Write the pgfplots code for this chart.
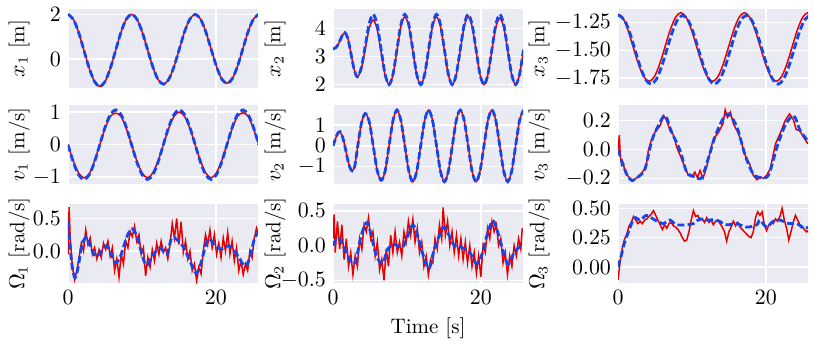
\documentclass[border=0pt]{standalone}
\usepackage{pgfplots}
\pgfplotsset{compat=1.18}
\usepackage{pgfplotstable}
\definecolor{bgc}{HTML}{EAEAF2}
\definecolor{rc}{RGB}{230,0,0}
\definecolor{bc}{RGB}{20,70,235}

\pgfplotsset{
  panel/.style={
    width=95pt, height=39.5pt, scale only axis, anchor=south west,
    xmin=0, xmax=25.7, xtick={0,20},
    axis background/.style={fill=bgc},
    axis line style={draw=none},
    major tick length=0pt,
    grid=major, major grid style={white, line width=0.7pt},
    tick label style={font=\fontsize{10.5}{12}\selectfont},
    label style={font=\fontsize{10.5}{12}\selectfont},
    xticklabels={},
  },
  bottomrow/.style={xticklabels={$0$,$20$}},
  yl/.style={ylabel style={at={(axis description cs:#1,0.5)}, anchor=south, inner sep=0pt}},
  rl/.style={rc, line width=0.75pt},
  bl/.style={bc, line width=1.4pt, dash pattern=on 3.5pt off 1.6pt},
}

% ---------------- data ----------------
\pgfplotstableread{
t v
0 2.0
0.717 1.786
1.433 1.2
2.15 0.4
2.867 -0.4
3.583 -1.0
4.3 -1.22
5.017 -1.0
5.733 -0.4
6.45 0.4
7.167 1.2
7.883 1.786
8.6 2.0
9.317 1.79
10.033 1.22
10.75 0.44
11.467 -0.34
12.183 -0.91
12.9 -1.12
13.617 -0.91
14.333 -0.34
15.05 0.44
15.767 1.22
16.483 1.79
17.2 2.0
17.917 1.79
18.633 1.23
19.35 0.46
20.067 -0.31
20.783 -0.88
21.5 -1.08
22.217 -0.88
22.933 -0.31
23.65 0.46
24.367 1.23
25.083 1.79
25.8 2.0
}\xone

\pgfplotstableread{
t v
0 0
0.717 -0.535
1.433 -0.927
2.15 -1.07
2.867 -0.927
3.583 -0.535
4.3 0
5.017 0.535
5.733 0.927
6.45 1.07
7.167 0.927
7.883 0.535
8.6 0
9.317 -0.535
10.033 -0.927
10.75 -1.07
11.467 -0.927
12.183 -0.535
12.9 0
13.617 0.535
14.333 0.927
15.05 1.07
15.767 0.927
16.483 0.535
17.2 0
17.917 -0.535
18.633 -0.927
19.35 -1.07
20.067 -0.927
20.783 -0.535
21.5 0
22.217 0.535
22.933 0.927
23.65 1.07
24.367 0.927
25.083 0.535
25.8 0
}\voneb

\pgfplotstableread{
t v
0 0
0.717 -0.5
1.433 -0.87
2.15 -1.02
2.867 -0.9
3.583 -0.5
4.3 0
5.017 0.5
5.733 0.87
6.45 0.97
7.167 0.87
7.883 0.5
8.6 0
9.317 -0.5
10.033 -0.87
10.75 -1.02
11.467 -0.87
12.183 -0.5
12.9 0
13.617 0.5
14.333 0.87
15.05 1.0
15.767 0.87
16.483 0.5
17.2 0
17.917 -0.5
18.633 -0.87
19.35 -1.02
20.067 -0.87
20.783 -0.5
21.5 0
22.217 0.5
22.933 0.87
23.65 0.98
24.367 0.87
25.083 0.5
25.8 0
}\voner

\pgfplotstableread{
t v
0 3.27
0.4 3.32
0.8 3.48
1.2 3.72
1.6 3.85
2.0 3.65
2.4 3.15
2.85 2.55
3.3 2.28
3.835 2.605
4.37 3.39
4.905 4.175
5.44 4.5
5.975 4.134
6.51 3.25
7.045 2.366
7.58 2.0
8.115 2.366
8.65 3.25
9.185 4.134
9.72 4.5
10.255 4.134
10.79 3.25
11.325 2.366
11.86 2.0
12.395 2.366
12.93 3.25
13.465 4.134
14.0 4.5
14.535 4.134
15.07 3.25
15.605 2.366
16.14 2.0
16.675 2.366
17.21 3.25
17.745 4.134
18.28 4.5
18.815 4.134
19.35 3.25
19.885 2.366
20.42 2.0
20.955 2.366
21.49 3.25
22.025 4.134
22.56 4.5
23.095 4.134
23.63 3.25
24.165 2.366
24.7 2.0
25.235 2.366
25.77 3.25
}\xtwob

\pgfplotstableread{
t v
0 3.27
0.4 3.32
0.8 3.48
1.2 3.72
1.6 3.85
2.0 3.65
2.4 3.15
2.85 2.55
3.3 2.28
3.835 2.576
4.37 3.29
4.905 4.004
5.44 4.3
5.975 3.963
6.51 3.15
7.045 2.337
7.58 2.0
8.115 2.354
8.65 3.21
9.185 4.066
9.72 4.42
10.255 4.066
10.79 3.21
11.325 2.354
11.86 2.0
12.395 2.354
12.93 3.21
13.465 4.066
14.0 4.42
14.535 4.066
15.07 3.21
15.605 2.354
16.14 2.0
16.675 2.354
17.21 3.21
17.745 4.066
18.28 4.42
18.815 4.066
19.35 3.21
19.885 2.354
20.42 2.0
20.955 2.354
21.49 3.21
22.025 4.04
22.56 4.36
23.095 4.04
23.63 3.21
24.165 2.354
24.7 2.0
25.235 2.354
25.77 3.21
}\xtwor

\pgfplotstableread{
t v
0 0
0.3 0.3
0.6 0.58
0.95 0.68
1.3 0.42
1.6 0.0
1.95 -0.6
2.3 -1.05
2.6 -1.2
2.95 -0.95
3.35 0.0
3.85 1.1
4.37 1.55
4.905 1.15
5.44 0
5.975 -1.17
6.51 -1.65
7.045 -1.216
7.58 0
8.115 1.216
8.65 1.72
9.185 1.216
9.72 0
10.255 -1.216
10.79 -1.72
11.325 -1.216
11.86 0
12.395 1.216
12.93 1.72
13.465 1.216
14.0 0
14.535 -1.216
15.07 -1.72
15.605 -1.216
16.14 0
16.675 1.216
17.21 1.72
17.745 1.216
18.28 0
18.815 -1.216
19.35 -1.72
19.885 -1.216
20.42 0
20.955 1.216
21.49 1.72
22.025 1.216
22.56 0
23.095 -1.216
23.63 -1.72
24.165 -1.216
24.7 0
25.235 1.216
25.77 1.72
}\vtwo

\pgfplotstableread{
t v
0 -1.175
0.617 -1.202
1.333 -1.315
2.05 -1.47
2.767 -1.625
3.483 -1.738
4.2 -1.78
4.917 -1.738
5.633 -1.625
6.35 -1.47
7.067 -1.315
7.783 -1.202
8.5 -1.16
9.217 -1.202
9.933 -1.315
10.65 -1.47
11.367 -1.625
12.083 -1.738
12.8 -1.78
13.517 -1.738
14.233 -1.625
14.95 -1.47
15.667 -1.315
16.383 -1.202
17.1 -1.16
17.817 -1.202
18.533 -1.315
19.25 -1.47
19.967 -1.625
20.683 -1.738
21.4 -1.78
22.117 -1.738
22.833 -1.625
23.55 -1.47
24.267 -1.315
24.983 -1.202
25.7 -1.16
26.417 -1.202
}\xthreer

\pgfplotstableread{
t v
0 -1.187
0.15 -1.185
0.867 -1.2265
1.583 -1.34
2.3 -1.495
3.017 -1.65
3.733 -1.763
4.45 -1.805
5.167 -1.763
5.883 -1.65
6.6 -1.495
7.317 -1.34
8.033 -1.2265
8.75 -1.185
9.467 -1.2265
10.183 -1.34
10.9 -1.495
11.617 -1.65
12.333 -1.763
13.05 -1.805
13.767 -1.763
14.483 -1.65
15.2 -1.495
15.917 -1.34
16.633 -1.2265
17.35 -1.185
18.067 -1.2265
18.783 -1.34
19.5 -1.495
20.217 -1.65
20.933 -1.763
21.65 -1.805
22.367 -1.763
23.083 -1.65
23.8 -1.495
24.517 -1.34
25.233 -1.2265
25.95 -1.185
}\xthreeb

\pgfplotstableread{
t v
0 0
0.72 -0.11
1.26 -0.18
1.85 -0.215
2.75 -0.19
3.66 -0.134
4.56 0.06
5.47 0.167
6.37 0.236
7.27 0.12
8.4 -0.007
9.3 -0.157
10.4 -0.19
11.3 -0.197
12.2 -0.065
13.1 0.086
14.05 0.2
14.95 0.248
16.1 0.155
17.2 -0.04
18.3 -0.17
19.5 -0.197
20.4 -0.174
21.5 0.016
22.6 0.167
23.76 0.236
24.66 0.13
25.7 0.06
}\vthreeb

\pgfplotstableread{
t v
0 0
0.18 0.1
0.3 -0.04
0.5 -0.11
0.72 -0.10
0.95 -0.157
1.26 -0.18
1.63 -0.2
2.0 -0.22
2.5 -0.197
3.2 -0.164
3.8 -0.12
4.1 -0.007
4.56 0.074
5.0 0.12
5.7 0.167
6.2 0.236
6.6 0.2
7.05 0.13
7.5 0.1
7.95 0.016
8.4 -0.04
8.94 -0.11
9.5 -0.18
10.0 -0.19
10.4 -0.157
10.75 -0.197
11.1 -0.146
11.5 -0.2
12.0 -0.12
12.5 -0.007
12.9 0.074
13.6 0.12
14.2 0.18
14.5 0.275
14.8 0.224
15.2 0.26
15.6 0.18
16.3 0.11
16.75 0.04
17.2 -0.04
17.8 -0.1
18.3 -0.18
18.8 -0.21
19.2 -0.19
19.7 -0.2
20.1 -0.18
20.6 -0.134
21.3 0.04
21.6 0.074
22.0 0.12
22.6 0.2
23.2 0.248
23.7 0.21
24.1 0.14
24.6 0.13
25.1 0.086
25.7 0.04
}\vthreer

\pgfplotstableread{
t v
0 0.44
0.5 -0.18
0.95 -0.41
1.4 -0.23
1.86 0.08
2.45 0.21
3.0 0.08
3.67 -0.08
4.35 -0.03
5.17 0.08
5.7 0.0
6.4 -0.18
7.1 -0.08
8.0 0.23
8.66 0.34
9.3 0.23
10.5 -0.21
11.4 -0.08
12.4 0.05
13.4 -0.05
14.1 0.21
15.5 0.08
16.4 -0.13
17.3 -0.34
18.0 -0.18
18.9 0.18
19.8 0.1
20.7 0.03
21.8 0.08
22.7 -0.03
23.9 -0.23
24.5 -0.13
25.2 0.18
25.7 0.28
}\oneb

\pgfplotstableread{
t v
0 -0.05
0.15 0.67
0.3 0.2
0.6 -0.25
0.9 -0.44
1.2 -0.3
1.5 -0.1
1.8 0.12
2.1 0.0
2.4 0.32
2.7 0.1
3.0 0.2
3.3 -0.05
3.6 0.05
3.9 -0.12
4.2 0.02
4.5 -0.1
4.8 0.12
5.1 0.02
5.4 0.15
5.7 -0.08
6.0 0.05
6.3 -0.3
6.6 -0.12
6.9 -0.4
7.2 -0.05
7.5 -0.2
7.8 0.15
8.1 0.05
8.4 0.3
8.7 0.22
9.0 0.38
9.3 0.15
9.6 0.25
9.9 -0.05
10.2 0.05
10.5 -0.38
10.8 -0.1
11.1 -0.25
11.4 0.02
11.7 -0.15
12.0 0.12
12.3 -0.05
12.6 0.15
12.9 -0.02
13.2 0.05
13.5 -0.12
13.8 0.1
14.1 0.42
14.4 0.2
14.7 0.5
15.0 0.1
15.3 0.45
15.6 -0.02
15.9 0.15
16.2 -0.12
16.5 0.0
16.8 -0.3
17.1 -0.2
17.4 -0.46
17.7 -0.25
18.0 -0.35
18.3 0.0
18.6 0.25
18.9 0.1
19.2 0.32
19.5 0.05
19.8 0.25
20.1 -0.05
20.4 0.12
20.7 -0.1
21.0 0.2
21.3 0.0
21.6 0.28
21.9 -0.05
22.2 0.15
22.5 -0.15
22.8 0.05
23.1 -0.3
23.4 -0.15
23.7 -0.36
24.0 -0.2
24.3 -0.3
24.6 0.0
24.9 -0.1
25.2 0.2
25.5 0.35
25.7 0.28
}\oner

\pgfplotstableread{
t v
0 0.0
0.45 0.1
0.9 0.1
1.6 -0.05
2.6 -0.26
3.15 -0.19
3.8 0.14
4.5 0.33
4.95 0.24
5.85 -0.14
6.7 -0.26
7.4 -0.05
8.3 0.02
9.45 -0.02
10.7 0.29
11.3 0.19
12.2 -0.14
13.0 -0.33
13.7 -0.05
14.9 0.26
15.5 0.19
16.4 0.0
17.3 -0.02
18.5 -0.1
19.4 -0.26
20.1 -0.14
20.8 0.14
21.6 0.36
22.3 0.19
23.6 -0.26
24.5 -0.1
25.6 0.02
}\twob

\pgfplotstableread{
t v
0 0.1
0.15 0.45
0.3 -0.1
0.6 0.35
0.9 -0.05
1.2 0.3
1.5 -0.2
1.8 0.1
2.1 -0.3
2.4 -0.1
2.7 -0.42
3.0 -0.15
3.3 -0.3
3.6 0.1
3.9 -0.05
4.2 0.3
4.5 0.2
4.8 0.4
5.1 0.1
5.4 0.2
5.7 -0.15
6.0 0.05
6.3 -0.35
6.6 -0.2
6.9 -0.5
7.2 -0.05
7.5 -0.3
7.8 0.15
8.1 -0.1
8.4 0.2
8.7 -0.1
9.0 0.05
9.3 -0.15
9.6 0.2
9.9 0.05
10.2 0.35
10.5 0.15
10.8 0.38
11.1 0.05
11.4 0.25
11.7 -0.1
12.0 0.05
12.3 -0.3
12.6 -0.15
12.9 -0.42
13.2 -0.2
13.5 -0.25
13.8 0.1
14.1 -0.05
14.4 0.3
14.7 0.1
14.9 0.55
15.2 0.15
15.5 0.35
15.8 0.0
16.1 0.2
16.4 -0.1
16.7 0.15
17.0 -0.15
17.3 0.1
17.6 -0.2
17.9 0.05
18.2 -0.25
18.5 0.0
18.8 -0.3
19.1 -0.1
19.4 -0.4
19.7 -0.15
20.0 -0.45
20.3 0.0
20.6 -0.1
20.9 0.25
21.2 0.1
21.5 0.35
21.8 0.2
22.1 0.3
22.4 0.0
22.7 0.1
23.0 -0.25
23.3 -0.1
23.6 -0.42
23.9 -0.15
24.2 -0.3
24.5 0.0
24.8 -0.15
25.1 0.1
25.4 -0.05
25.6 0.25
}\twor

\pgfplotstableread{
t v
0 0.0
0.45 0.1
0.9 0.21
1.6 0.33
2.2 0.42
3.0 0.4
3.85 0.44
5.0 0.4
6.1 0.37
7.0 0.4
7.9 0.36
9.3 0.36
10.2 0.37
11.1 0.41
12.0 0.4
13.3 0.4
14.7 0.36
16.0 0.37
17.4 0.34
18.8 0.36
19.2 0.4
20.1 0.34
21.0 0.39
21.9 0.4
23.1 0.37
24.2 0.37
25.1 0.33
25.7 0.34
}\threeb

\pgfplotstableread{
t v
0 -0.11
0.3 0.05
0.6 0.17
0.9 0.24
1.2 0.28
1.5 0.35
1.8 0.38
2.1 0.43
2.4 0.4
2.7 0.37
3.0 0.39
3.3 0.37
3.6 0.4
3.9 0.41
4.2 0.43
4.5 0.45
4.8 0.48
5.1 0.44
5.4 0.4
5.7 0.36
6.0 0.32
6.3 0.36
6.6 0.33
6.9 0.37
7.2 0.38
7.5 0.35
7.8 0.34
8.1 0.32
8.4 0.29
8.7 0.25
9.0 0.22
9.3 0.23
9.6 0.3
9.9 0.4
10.2 0.48
10.5 0.43
10.8 0.44
11.1 0.4
11.4 0.41
11.7 0.38
12.0 0.42
12.3 0.38
12.6 0.4
12.9 0.36
13.2 0.39
13.5 0.4
13.8 0.37
14.1 0.34
14.4 0.3
14.7 0.22
15.0 0.3
15.3 0.34
15.6 0.39
15.9 0.35
16.2 0.38
16.5 0.34
16.8 0.32
17.1 0.3
17.4 0.28
17.7 0.26
18.0 0.25
18.3 0.3
18.6 0.42
18.9 0.47
19.2 0.44
19.5 0.47
19.8 0.36
20.1 0.31
20.4 0.36
20.7 0.38
21.0 0.37
21.3 0.41
21.6 0.39
21.9 0.43
22.2 0.5
22.5 0.4
22.8 0.33
23.1 0.23
23.4 0.3
23.7 0.38
24.0 0.44
24.3 0.4
24.6 0.36
24.9 0.35
25.2 0.32
25.5 0.3
25.7 0.31
}\threer

\begin{document}
\begin{tikzpicture}
\path[use as bounding box] (0,0) rectangle (407pt,172pt);

% ---------- row 1 ----------
\begin{axis}[panel, at={(34pt,128pt)}, ymin=-1.29, ymax=2.24, ytick={0,2},
  ylabel={$x_1$ [m]}, yl=-0.2]
\addplot[rl, smooth] table {\xone};
\addplot[bl, smooth] table {\xone};
\end{axis}

\begin{axis}[panel, at={(166.5pt,128pt)}, ymin=1.88, ymax=4.69, ytick={2,3,4},
  ylabel={$x_2$ [m]}, yl=-0.247]
\addplot[rl, smooth] table {\xtwor};
\addplot[bl, smooth] table {\xtwob};
\end{axis}

\begin{axis}[panel, at={(309pt,128pt)}, ymin=-1.84, ymax=-1.127, ytick={-1.75,-1.5,-1.25},
  yticklabel style={/pgf/number format/.cd, fixed, fixed zerofill, precision=2},
  ylabel={$x_3$ [m]}, yl=-0.358]
\addplot[rl, smooth] table {\xthreer};
\addplot[bl, smooth] table {\xthreeb};
\end{axis}

% ---------- row 2 ----------
\begin{axis}[panel, at={(34pt,80pt)}, ymin=-1.21, ymax=1.22, ytick={-1,0,1},
  ylabel={$v_1$ [m/s]}, yl=-0.2]
\addplot[rl, smooth] table {\voner};
\addplot[bl, smooth] table {\voneb};
\end{axis}

\begin{axis}[panel, at={(166.5pt,80pt)}, ymin=-1.83, ymax=1.96, ytick={-1,0,1},
  ylabel={$v_2$ [m/s]}, yl=-0.247]
\addplot[rl, smooth] table {\vtwo};
\addplot[bl, smooth] table {\vtwo};
\end{axis}

\begin{axis}[panel, at={(309pt,80pt)}, ymin=-0.24, ymax=0.31, ytick={-0.2,0,0.2},
  yticklabel style={/pgf/number format/.cd, fixed, fixed zerofill, precision=1},
  ylabel={$v_3$ [m/s]}, yl=-0.358]
\addplot[rl] table {\vthreer};
\addplot[bl, smooth] table {\vthreeb};
\end{axis}

% ---------- row 3 ----------
\begin{axis}[panel, bottomrow, at={(34pt,30.5pt)}, ymin=-0.49, ymax=0.72, ytick={0,0.5},
  yticklabel style={/pgf/number format/.cd, fixed, fixed zerofill, precision=1},
  ylabel={$\Omega_1$ [rad/s]}, yl=-0.2]
\addplot[rl] table {\oner};
\addplot[bl, smooth] table {\oneb};
\end{axis}

\begin{axis}[panel, bottomrow, at={(166.5pt,30.5pt)}, ymin=-0.54, ymax=0.6, ytick={-0.5,0,0.5},
  yticklabel style={/pgf/number format/.cd, fixed, fixed zerofill, precision=1},
  ylabel={$\Omega_2$ [rad/s]}, yl=-0.247, xlabel={Time [s]}]
\addplot[rl] table {\twor};
\addplot[bl, smooth] table {\twob};
\end{axis}

\begin{axis}[panel, bottomrow, at={(309pt,30.5pt)}, ymin=-0.137, ymax=0.537, ytick={0,0.25,0.5},
  yticklabel style={/pgf/number format/.cd, fixed, fixed zerofill, precision=2},
  ylabel={$\Omega_3$ [rad/s]}, yl=-0.358]
\addplot[rl] table {\threer};
\addplot[bl, smooth] table {\threeb};
\end{axis}
\end{tikzpicture}
\end{document}
